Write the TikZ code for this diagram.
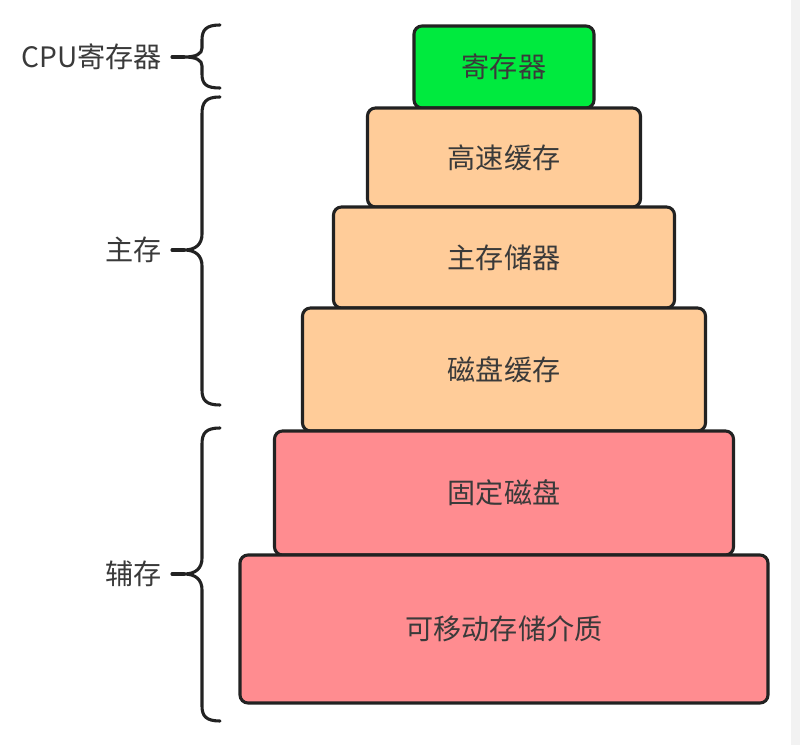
\documentclass[tikz,border=0pt]{standalone}
\usepackage{fontspec}
\newfontfamily\cjk{Noto Sans CJK SC}
\usetikzlibrary{positioning}
\definecolor{regcolor}{HTML}{00EA3E}
\definecolor{maincolor}{HTML}{FFCC99}
\definecolor{auxcolor}{HTML}{FF8C90}
\definecolor{edgecolor}{HTML}{222222}
\definecolor{labelcolor}{HTML}{3A3A3A}
\definecolor{stripcolor}{HTML}{F2F2F2}

\tikzset{
  level/.style={draw=edgecolor,line width=2.2pt,rounded corners=0.2cm,
    outer sep=0pt,inner sep=0pt,text=labelcolor,
    font=\cjk\fontsize{20}{23}\selectfont},
  brace/.style={draw=edgecolor,line width=2.2pt,line cap=round},
  side/.style={anchor=east,inner sep=0pt,text=labelcolor,
    font=\cjk\fontsize{20}{23}\selectfont}
}

\begin{document}
\begin{tikzpicture}

\useasboundingbox (0,0) rectangle (20,-18.625);
\fill[stripcolor] (19.78,0) rectangle (20,-18.625);

% levels of the pyramid
\node[level,fill=regcolor,minimum width=4.5cm,minimum height=2.05cm,anchor=north]
  (reg) at (12.6,-0.65) {寄存器};
\node[level,fill=maincolor,minimum width=6.825cm,minimum height=2.475cm,below=0pt of reg]
  (cache) {高速缓存};
\node[level,fill=maincolor,minimum width=8.525cm,minimum height=2.525cm,below=0pt of cache]
  (mem) {主存储器};
\node[level,fill=maincolor,minimum width=10.075cm,minimum height=3.075cm,below=0pt of mem]
  (dcache) {磁盘缓存};
\node[level,fill=auxcolor,minimum width=11.475cm,minimum height=3.1cm,below=0pt of dcache]
  (disk) {固定磁盘};
\node[level,fill=auxcolor,minimum width=13.2cm,minimum height=3.7cm,below=0pt of disk]
  (media) {可移动存储介质};

% braces
\draw[brace] (5.5,-0.625) .. controls (5.15,-0.625) and (5.05,-0.75) .. (5.05,-1.0)
  -- (5.05,-1.2) .. controls (5.05,-1.35) and (4.9,-1.425) .. (4.6,-1.425)
  .. controls (4.9,-1.425) and (5.05,-1.5) .. (5.05,-1.65)
  -- (5.05,-1.85) .. controls (5.05,-2.1) and (5.15,-2.2) .. (5.5,-2.2);
\draw[brace] (4.6,-1.425) -- (4.3,-1.425);

\draw[brace] (5.5,-2.425) .. controls (5.15,-2.425) and (5.05,-2.55) .. (5.05,-2.85)
  -- (5.05,-5.85) .. controls (5.05,-6.1) and (4.9,-6.25) .. (4.6,-6.25)
  .. controls (4.9,-6.25) and (5.05,-6.4) .. (5.05,-6.65)
  -- (5.05,-9.75) .. controls (5.05,-10.0) and (5.15,-10.125) .. (5.5,-10.125);
\draw[brace] (4.6,-6.25) -- (4.3,-6.25);

\draw[brace] (5.5,-10.7) .. controls (5.15,-10.7) and (5.05,-10.825) .. (5.05,-11.1)
  -- (5.05,-13.95) .. controls (5.05,-14.2) and (4.9,-14.35) .. (4.6,-14.35)
  .. controls (4.9,-14.35) and (5.05,-14.5) .. (5.05,-14.75)
  -- (5.05,-17.65) .. controls (5.05,-17.9) and (5.15,-18.025) .. (5.5,-18.025);
\draw[brace] (4.6,-14.35) -- (4.3,-14.35);

% side labels
\node[side] (cpulabel) at (4.05,-1.425) {CPU寄存器};
\node[side] (mainlabel) at (4.05,-6.25) {主存};
\node[side] (auxlabel) at (4.05,-14.35) {辅存};

\end{tikzpicture}
\end{document}
